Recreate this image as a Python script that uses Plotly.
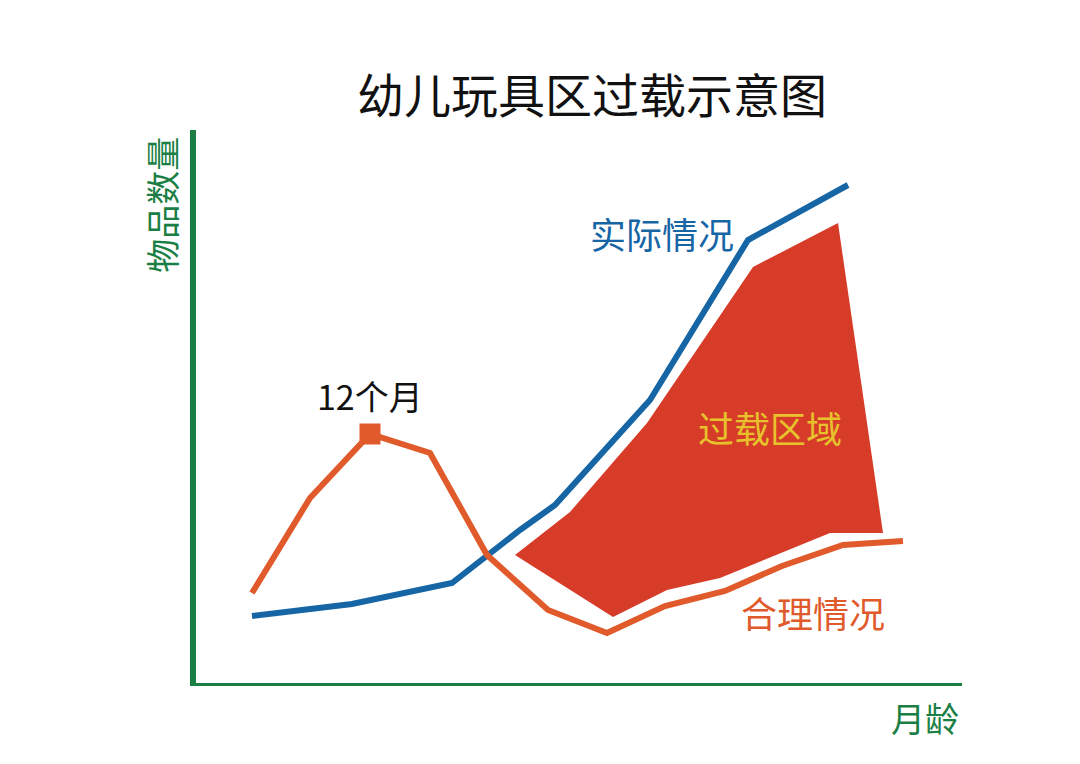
import plotly.graph_objects as go

# 月龄（横轴单位）与物品数量（纵轴单位）
actual_x = [6.2, 16.2, 26.2, 33.0, 36.5, 42.0, 46.0, 55.8, 65.8]
actual_y = [7.0, 8.2, 10.3, 15.6, 18.1, 24.1, 28.6, 44.6, 50.1]

reasonable_x = [6.2, 12.0, 18.0, 24.0, 29.7, 35.8, 41.7, 47.5, 53.5, 59.2, 65.3, 71.3]
reasonable_y = [9.3, 18.8, 25.2, 23.3, 13.1, 7.6, 5.3, 8.0, 9.5, 12.0, 14.1, 14.5]

overload_x = [32.5, 38.0, 45.7, 56.3, 64.8, 69.3, 64.0, 53.0, 47.7, 42.3, 32.5]
overload_y = [13.1, 17.4, 26.3, 41.9, 46.3, 15.3, 15.3, 10.8, 9.6, 6.9, 13.1]

peak_x = [18.0]
peak_y = [25.2]

GREEN = "#1b7f45"
BLUE = "#1665a5"
ORANGE = "#e05a2b"
RED = "#d73c28"
YELLOW = "#e8c22c"
FONT = "Noto Sans CJK SC"

fig = go.Figure()

fig.add_trace(go.Scatter(x=overload_x, y=overload_y, fill="toself", fillcolor=RED,
                         mode="lines", line=dict(width=0, color=RED), hoverinfo="skip"))
fig.add_trace(go.Scatter(x=actual_x, y=actual_y, mode="lines",
                         line=dict(color=BLUE, width=6)))
fig.add_trace(go.Scatter(x=reasonable_x, y=reasonable_y, mode="lines",
                         line=dict(color=ORANGE, width=6)))
fig.add_trace(go.Scatter(x=peak_x, y=peak_y, mode="markers",
                         marker=dict(symbol="square", size=21, color=ORANGE)))

# 坐标轴（绿色粗线）
fig.add_shape(type="line", xref="x", yref="y", x0=0.3, x1=0.3, y0=0, y1=55.6,
              line=dict(color=GREEN, width=6), layer="below")
fig.add_shape(type="line", xref="x", yref="y", x0=0, x1=77.2, y0=0, y1=0,
              line=dict(color=GREEN, width=6), layer="below")

# 图内标注（数据坐标）
ann = [
    dict(x=18.0, y=29.1, text="12个月", color="#111111", size=34),
    dict(x=47.2, y=45.3, text="实际情况", color=BLUE, size=36),
    dict(x=58.0, y=25.9, text="过载区域", color=YELLOW, size=36),
    dict(x=62.3, y=7.4, text="合理情况", color=ORANGE, size=36),
]
for a in ann:
    fig.add_annotation(x=a["x"], y=a["y"], text=a["text"], showarrow=False,
                       font=dict(family=FONT, size=a["size"], color=a["color"]),
                       xanchor="center", yanchor="middle")

# 轴标题（绘图区外，用 paper 坐标）
fig.add_annotation(xref="paper", yref="paper", x=0.952, y=-0.056, text="月龄",
                   showarrow=False, font=dict(family=FONT, size=34, color=GREEN),
                   xanchor="center", yanchor="middle")
fig.add_annotation(xref="paper", yref="paper", x=-0.038, y=0.862, text="物品数量",
                   showarrow=False, textangle=-90,
                   font=dict(family=FONT, size=34, color=GREEN),
                   xanchor="center", yanchor="middle")

fig.update_layout(
    width=1080, height=764,
    margin=dict(l=182, r=126, t=120, b=86),
    paper_bgcolor="white", plot_bgcolor="white",
    showlegend=False,
    title=dict(text="幼儿玩具区过载示意图", x=584 / 1080, y=1 - 89 / 764,
               xanchor="center", yanchor="middle",
               font=dict(family=FONT, size=47, color="#111111")),
    xaxis=dict(range=[0, 77.2], showline=False, showgrid=False, zeroline=False,
               showticklabels=False, ticks=""),
    yaxis=dict(range=[0, 55.8], showline=False, showgrid=False, zeroline=False,
               showticklabels=False, ticks=""),
)

fig.write_html("out.html")
